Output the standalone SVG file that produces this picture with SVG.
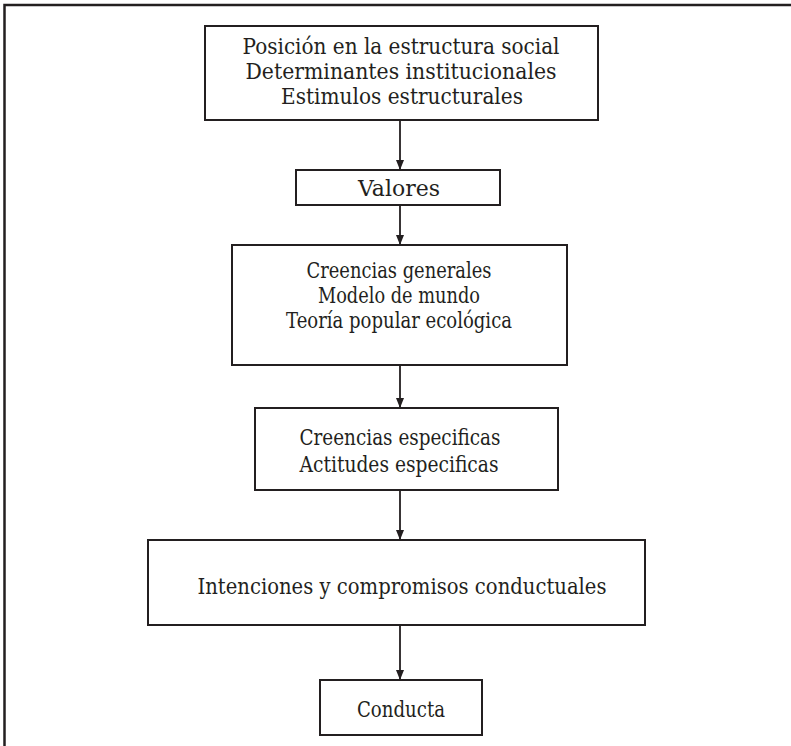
<svg xmlns="http://www.w3.org/2000/svg" width="791" height="746" viewBox="0 0 791 746">
<style>
.box{fill:#fff;stroke:#231f20;stroke-width:2}
.frame{fill:none;stroke:#231f20;stroke-width:2.5}
.t{font-family:"DejaVu Serif","Liberation Serif",serif;font-size:22px;fill:#231f20;text-anchor:middle}
.c{stroke:#231f20;stroke-width:1.8;fill:none;marker-end:url(#ah)}
</style>
<defs>
<marker id="ah" markerWidth="10" markerHeight="10" refX="10" refY="5" orient="auto" markerUnits="userSpaceOnUse">
<path d="M0,1 L10,5 L0,9 z" fill="#231f20"/>
</marker>
</defs>
<rect width="791" height="746" fill="#fff"/>
<path class="frame" d="M4.5,746 V5 H791"/>
<g id="connectors">
<line class="c" x1="400" y1="120" x2="400" y2="170"/>
<line class="c" x1="400" y1="205" x2="400" y2="245"/>
<line class="c" x1="400" y1="365" x2="400" y2="408"/>
<line class="c" x1="400" y1="490" x2="400" y2="540"/>
<line class="c" x1="400" y1="625" x2="400" y2="680"/>
</g>
<g id="n1">
<rect class="box" x="205" y="26" width="393" height="94"/>
<text class="t" x="401" y="54" textLength="317" lengthAdjust="spacingAndGlyphs">Posición en la estructura social</text>
<text class="t" x="401" y="79" textLength="311" lengthAdjust="spacingAndGlyphs">Determinantes institucionales</text>
<text class="t" x="402" y="104" textLength="242" lengthAdjust="spacingAndGlyphs">Estimulos estructurales</text>
</g>
<g id="n2">
<rect class="box" x="296" y="170" width="204" height="35"/>
<text class="t" x="399" y="196" textLength="82" lengthAdjust="spacingAndGlyphs">Valores</text>
</g>
<g id="n3">
<rect class="box" x="232" y="245" width="335" height="120"/>
<text class="t" x="399" y="278" textLength="185" lengthAdjust="spacingAndGlyphs">Creencias generales</text>
<text class="t" x="399" y="303" textLength="162" lengthAdjust="spacingAndGlyphs">Modelo de mundo</text>
<text class="t" x="399" y="328" textLength="226" lengthAdjust="spacingAndGlyphs">Teoría popular ecológica</text>
</g>
<g id="n4">
<rect class="box" x="255" y="408" width="303" height="82"/>
<text class="t" x="400" y="445" textLength="201" lengthAdjust="spacingAndGlyphs">Creencias especificas</text>
<text class="t" x="399" y="472" textLength="199" lengthAdjust="spacingAndGlyphs">Actitudes especificas</text>
</g>
<g id="n5">
<rect class="box" x="148" y="540" width="497" height="85"/>
<text class="t" x="402" y="594" textLength="409" lengthAdjust="spacingAndGlyphs">Intenciones y compromisos conductuales</text>
</g>
<g id="n6">
<rect class="box" x="320" y="680" width="162" height="55"/>
<text class="t" x="401" y="717" textLength="88" lengthAdjust="spacingAndGlyphs">Conducta</text>
</g>
</svg>
